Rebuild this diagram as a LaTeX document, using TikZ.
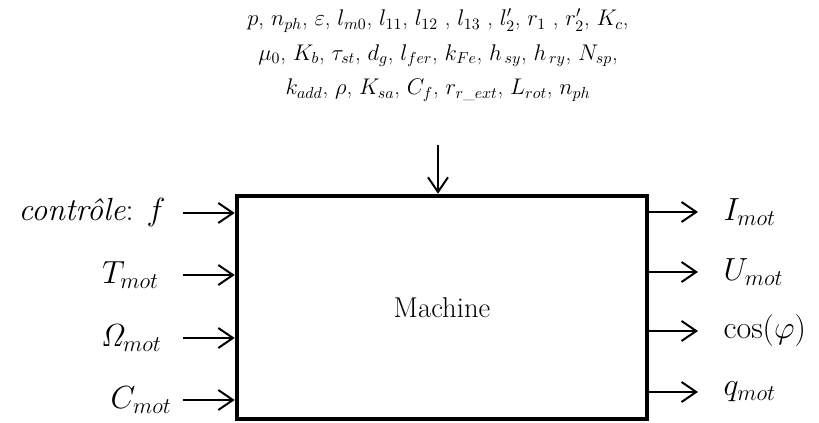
\RequirePackage{fix-cm}
\documentclass[tikz,border=0pt]{standalone}
\usepackage{amsmath,amssymb}
\usepackage{tikz}
\usetikzlibrary{arrows.meta,positioning}

\begin{document}
\begin{tikzpicture}[x=0.75pt, y=-0.75pt,
        block/.style={draw, line width=3.4pt, minimum width=307.5pt, minimum height=167.25pt, font=\fontsize{21.5}{24}\selectfont},
        arrow/.style={-{Straight Barb[length=11pt,width=15pt,line width=1.5pt]}, line width=1.5pt},
        lbl/.style={font=\fontsize{24}{28}\selectfont, inner sep=2pt},
        params/.style={font=\fontsize{17}{26}\selectfont, align=center}
    ]
        \useasboundingbox (0,0) rectangle (819,423);

        \node[block] (machine) at (442,307.5) {Machine};

        % parametres
        \node[params] (par) at (438,55) {$p$, $n_{ph}$, $\varepsilon$, $l_{m0}$, $l_{11}$, $l_{12}$ , $l_{13}$ , $l_2'$, $r_1$ , $r_2'$, $K_c$,\\
            $\mu_0$, $K_b$, $\tau_{st}$, $d_g$, $l_{fer}$, $k_{Fe}$, $h_{\,sy}$, $h_{\,ry}$, $N_{sp}$,\\
            $k_{add}$, $\rho$, $K_{sa}$, $C_f$, $r_{r\_ext}$, $L_{rot}$, $n_{ph}$};
        \coordinate (top) at (438,145);
        \draw[arrow] (top) -- (top |- machine.north);

        % entrees
        \coordinate (in1) at (183,213);
        \coordinate (in2) at (183,275);
        \coordinate (in3) at (183,338);
        \coordinate (in4) at (183,400);
        \node[lbl, left=11pt of in1] (ctrl) {\textit{contrôle}: $f$};
        \node[lbl, left=16pt of in2] (tmot) {$T_{mot}$};
        \node[lbl, left=14pt of in3] (omot) {$\mathit{\Omega}_{mot}$};
        \node[lbl, left=6.5pt of in4] (cmot) {$C_{mot}$};
        \draw[arrow] (in1) -- (in1 -| machine.west);
        \draw[arrow] (in2) -- (in2 -| machine.west);
        \draw[arrow] (in3) -- (in3 -| machine.west);
        \draw[arrow] (in4) -- (in4 -| machine.west);

        % sorties
        \coordinate (out1) at (698,212);
        \coordinate (out2) at (698,272);
        \coordinate (out3) at (698,331);
        \coordinate (out4) at (698,392);
        \node[lbl, right=17pt of out1] (imot) {$I_{mot}$};
        \node[lbl, right=17pt of out2] (umot) {$U_{mot}$};
        \node[lbl, right=17pt of out3] (cosphi) {$\cos(\varphi)$};
        \node[lbl, right=17pt of out4] (qmot) {$q_{mot}$};
        \draw[arrow] (machine.east |- out1) -- (out1);
        \draw[arrow] (machine.east |- out2) -- (out2);
        \draw[arrow] (machine.east |- out3) -- (out3);
        \draw[arrow] (machine.east |- out4) -- (out4);
    \end{tikzpicture}
\end{document}
